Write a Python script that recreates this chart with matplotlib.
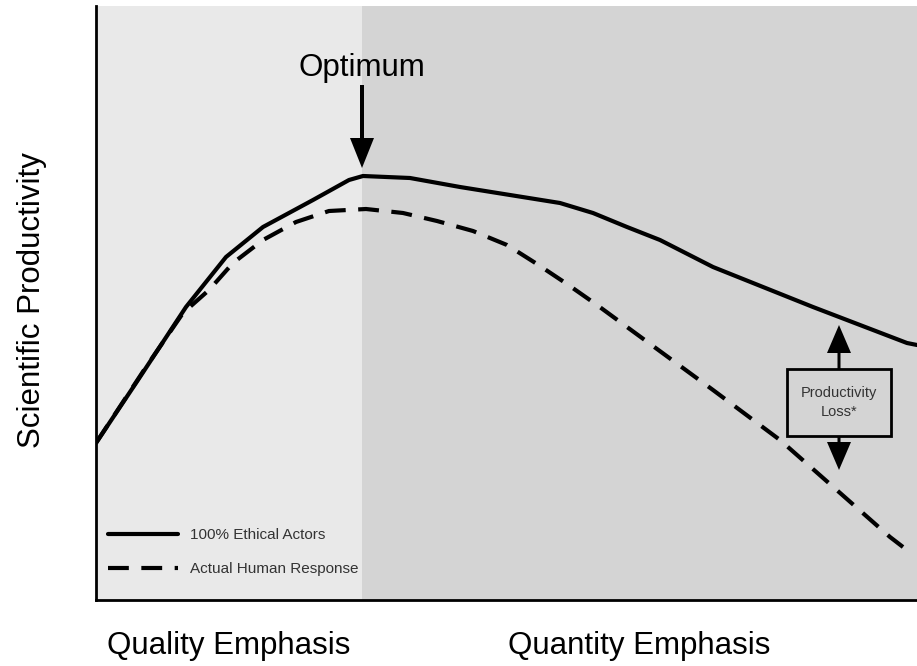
import matplotlib
matplotlib.use("Agg")
import matplotlib.pyplot as plt
from matplotlib.patches import Rectangle

plt.rcParams['font.family'] = ['Liberation Sans', 'DejaVu Sans']

# conceptual curves (x: emphasis from quality -> quantity, y: productivity)
ethical_x = [0, 40, 90, 130, 167, 217, 253, 267, 314, 364, 414, 464, 497, 531, 564, 617, 717, 811, 821]
ethical_y = [157, 217, 293, 343, 373, 400, 420, 424, 422, 413, 405, 397, 387, 373, 360, 333, 293, 257, 255]

human_x = [0, 50, 87, 113, 137, 167, 200, 233, 270, 307, 341, 377, 411, 441, 471, 501, 531, 617, 684, 794, 807]
human_y = [157, 233, 287, 310, 337, 360, 378, 389, 391, 387, 379, 369, 355, 336, 316, 295, 273, 210, 160, 63, 53]

optimum_x = 266
x_max, y_max = 821, 594
region_labels = ["Quality Emphasis", "Quantity Emphasis"]
series_labels = ["100% Ethical Actors", "Actual Human Response"]

fig = plt.figure(figsize=(9.17, 6.66), dpi=100)
ax = fig.add_axes([96 / 917, 66 / 666, 821 / 917, 594 / 666])

ax.axvspan(0, optimum_x, color="#e9e9e9", lw=0)
ax.axvspan(optimum_x, x_max, color="#d4d4d4", lw=0)

ax.plot(ethical_x, ethical_y, color="black", lw=3, solid_joinstyle="round",
        solid_capstyle="round", label=series_labels[0])
ax.plot(human_x, human_y, color="black", lw=3, dashes=(5, 3),
        label=series_labels[1])

# optimum marker
ax.arrow(optimum_x, 515, 0, -83, width=4, head_width=24, head_length=30,
         length_includes_head=True, color="black", lw=0)
ax.text(optimum_x, 532, "Optimum", ha="center", va="center", fontsize=22.5)

# productivity loss box
bx, by, bw, bh = 691, 164, 104, 67
ax.add_patch(Rectangle((bx, by), bw, bh, facecolor="#d4d4d4", edgecolor="black", lw=2))
ax.text(bx + bw / 2, by + bh / 2, "Productivity\nLoss*", ha="center", va="center",
        fontsize=10.5, color="#333333", linespacing=1.5)
ax.arrow(bx + bw / 2, by + bh, 0, 44, width=3, head_width=24, head_length=28,
         length_includes_head=True, color="black", lw=0)
ax.arrow(bx + bw / 2, by, 0, -34, width=3, head_width=24, head_length=28,
         length_includes_head=True, color="black", lw=0)

leg = ax.legend(loc="lower left", bbox_to_anchor=(0.0146, 0.04), frameon=False,
                fontsize=11, handlelength=4.6, handletextpad=0.8, labelspacing=1.3,
                borderpad=0, borderaxespad=0)
for t in leg.get_texts():
    t.set_color("#333333")

ax.set_xlim(0, x_max)
ax.set_ylim(0, y_max)
ax.set_xticks([optimum_x / 2, (optimum_x + x_max) / 2])
ax.set_xticklabels(region_labels, fontsize=22.5)
ax.tick_params(axis="x", length=0, pad=22)
ax.set_yticks([])
ax.set_ylabel("Scientific Productivity", fontsize=22.5)
ax.yaxis.set_label_coords(-0.060, 0.505)

for s in ["top", "right"]:
    ax.spines[s].set_visible(False)
for s in ["left", "bottom"]:
    ax.spines[s].set_linewidth(2)

fig.savefig("out.png", dpi=100)
